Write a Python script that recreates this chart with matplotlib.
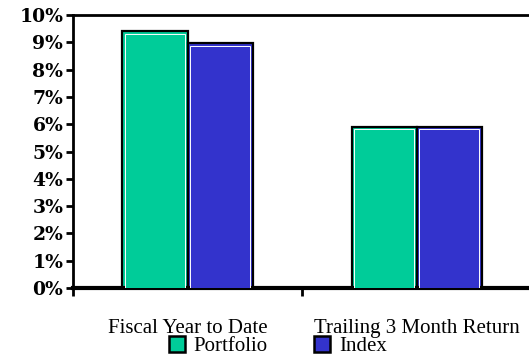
import matplotlib.pyplot as plt
import numpy as np
from matplotlib.patches import Patch

categories = ["Fiscal Year to Date", "Trailing 3 Month Return"]
portfolio = [9.4, 5.9]
index = [8.97, 5.9]
series_names = ["Portfolio", "Index"]
colors = ["#00CC99", "#3333CC"]
yticks = list(range(0, 11))

fig = plt.figure(figsize=(5.29, 3.58), dpi=100)
ax = fig.add_axes([0.138, 0.1955, 0.866, 0.7625])

x = np.arange(len(categories))
w = 0.284
for vals, off, col in [(portfolio, -w / 2, colors[0]), (index, w / 2, colors[1])]:
    ax.bar(x + off, vals, w, color=col, edgecolor="black", linewidth=1.6, zorder=2)
    # thin white inner line like the original
    ax.bar(x + off, np.array(vals) - 0.09, w - 0.02, color=col, edgecolor="white",
           linewidth=0.7, zorder=3)

ax.set_xlim(-0.5, 1.5)
ax.set_ylim(0, 10)
ax.set_yticks(yticks)
ax.set_yticklabels([f"{t}%" for t in yticks], fontfamily="DejaVu Serif",
                   fontweight="bold", fontsize=13.5)
ax.set_xticks([-0.5, 0.5, 1.5])
ax.set_xticklabels([])
ax.set_xticks(x, minor=True)
ax.set_xticklabels(categories, minor=True, fontfamily="Liberation Serif", fontsize=15)
ax.tick_params(axis="x", which="minor", length=0, pad=22)
ax.tick_params(axis="x", which="major", length=6, width=2, direction="out")
ax.tick_params(axis="y", length=5, width=2, direction="out", pad=2)

for s in ["left", "top"]:
    ax.spines[s].set_linewidth(2)
ax.spines["bottom"].set_linewidth(3)
ax.spines["right"].set_visible(False)

handles = [Patch(facecolor=c, edgecolor="black", linewidth=1.8) for c in colors]
fig.legend(handles, series_names, loc="center", bbox_to_anchor=(0.525, 0.033), ncol=2,
           frameon=False, prop={"family": "Liberation Serif", "size": 15},
           handlelength=0.8, handleheight=0.8, handletextpad=0.4, columnspacing=2.2,
           borderaxespad=0, borderpad=0)

fig.savefig("out.png", dpi=100)
